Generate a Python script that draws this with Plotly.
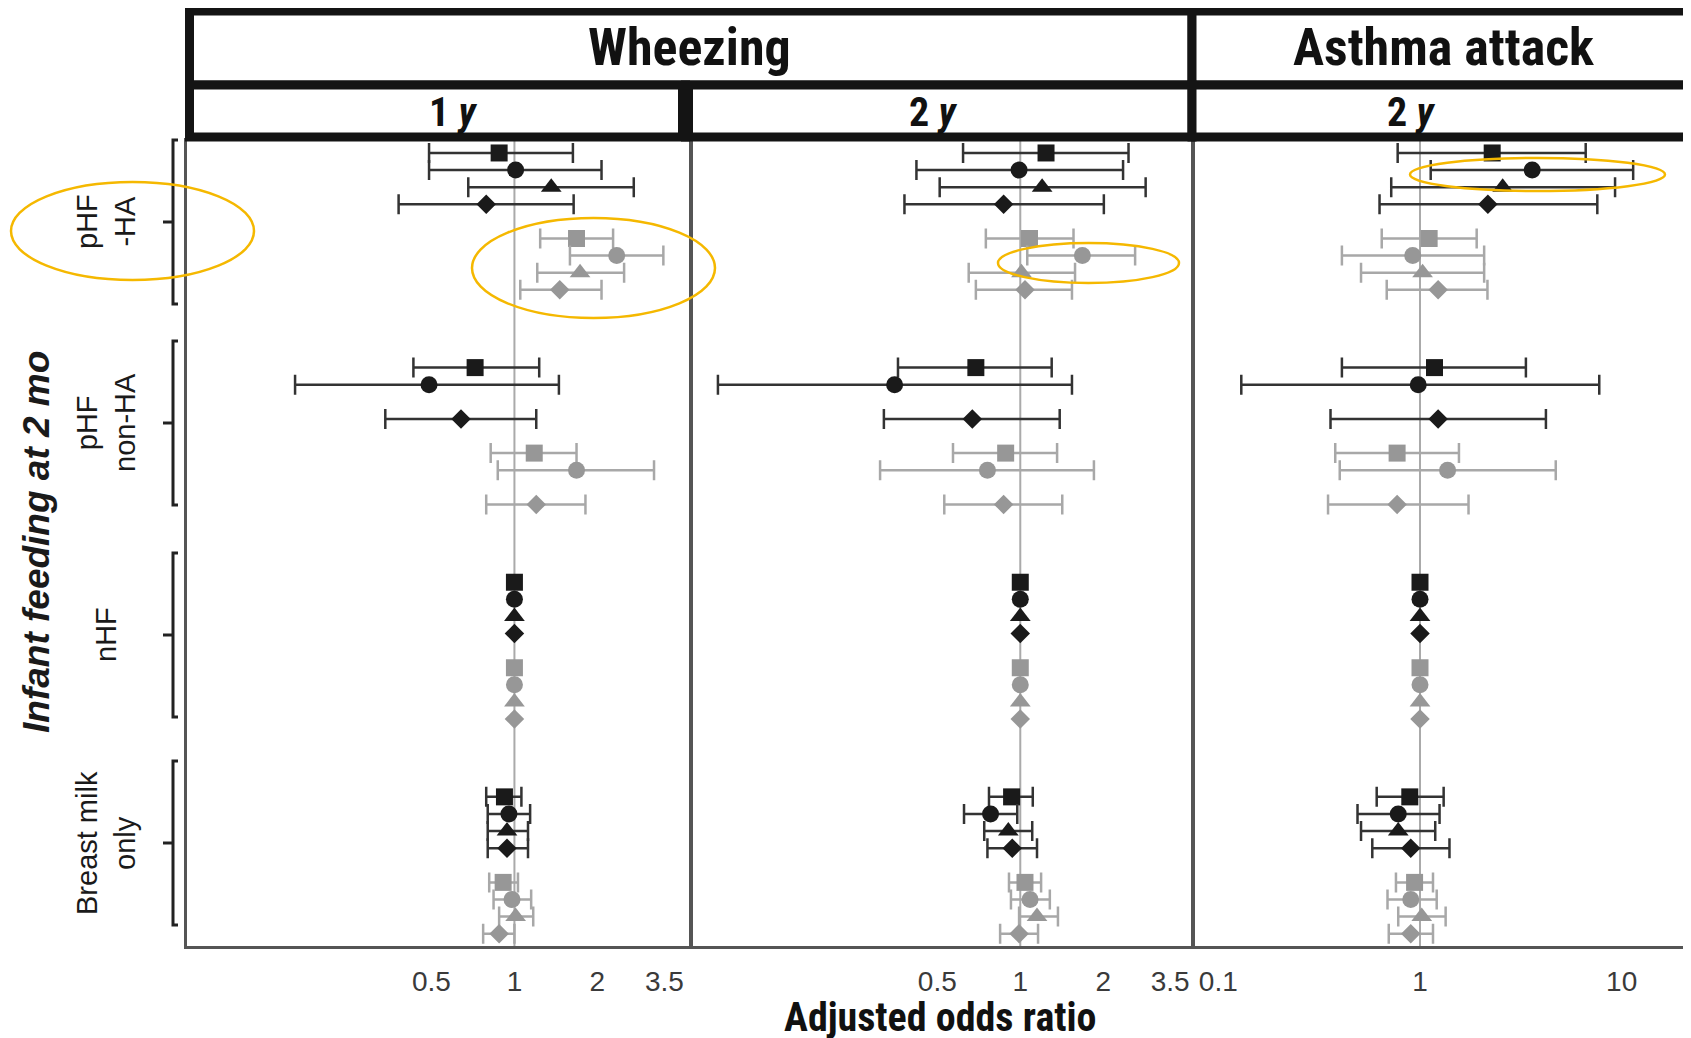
import glob
import os
import plotly.graph_objects as go

# The page adds an 8 px body margin, so the figure is sized to fit the window
OFF = 8
W, H = 1691 - OFF, 1038 - OFF

# ---------------- data ----------------
groups = ["pHF<br>-HA", "pHF<br>non-HA", "nHF", "Breast milk<br>only"]
symbols = ["square", "circle", "triangle-up", "diamond",
           "square", "circle", "triangle-up", "diamond"]
tones = ["black", "black", "black", "black", "gray", "gray", "gray", "gray"]
series_names = ["Black square", "Black circle", "Black triangle", "Black diamond",
                "Gray square", "Gray circle", "Gray triangle", "Gray diamond"]

# Wheezing, 1 y  (rows = series, columns = groups)
wz1_or = [[0.88, 0.72, 1, 0.92], [1.01, 0.49, 1, 0.955], [1.36, None, 1, 0.94], [0.79, 0.64, 1, 0.94],
          [1.68, 1.18, 1, 0.91], [2.35, 1.68, 1, 0.98], [1.73, None, 1, 1.01], [1.46, 1.20, 1, 0.88]]
wz1_lo = [[0.49, 0.43, None, 0.79], [0.49, 0.16, None, 0.80], [0.68, None, None, 0.80], [0.38, 0.34, None, 0.80],
          [1.24, 0.82, None, 0.81], [1.59, 0.87, None, 0.84], [1.21, None, None, 0.88], [1.05, 0.79, None, 0.77]]
wz1_hi = [[1.63, 1.23, None, 1.06], [2.07, 1.45, None, 1.14], [2.71, None, None, 1.12], [1.64, 1.20, None, 1.12],
          [2.28, 1.68, None, 1.03], [3.47, 3.21, None, 1.15], [2.50, None, None, 1.17], [2.07, 1.81, None, 1.00]]

# Wheezing, 2 y
wz2_or = [[1.24, 0.69, 1, 0.93], [0.99, 0.35, 1, 0.78], [1.20, None, 1, 0.905], [0.87, 0.67, 1, 0.935],
          [1.08, 0.885, 1, 1.04], [1.68, 0.76, 1, 1.085], [1.01, None, 1, 1.15], [1.04, 0.87, 1, 0.99]]
wz2_lo = [[0.62, 0.36, None, 0.77], [0.42, 0.080, None, 0.625], [0.51, None, None, 0.74], [0.38, 0.32, None, 0.76],
          [0.75, 0.57, None, 0.91], [1.06, 0.31, None, 0.925], [0.65, None, None, 0.99], [0.69, 0.53, None, 0.845]]
wz2_hi = [[2.47, 1.30, None, 1.11], [2.36, 1.54, None, 0.975], [2.85, None, None, 1.105], [2.01, 1.39, None, 1.15],
          [1.56, 1.36, None, 1.19], [2.61, 1.85, None, 1.28], [1.58, None, None, 1.37], [1.54, 1.42, None, 1.16]]

# Asthma attack, 2 y
as2_or = [[2.28, 1.18, 1, 0.89], [3.60, 0.98, 1, 0.78], [2.57, None, 1, 0.78], [2.17, 1.23, 1, 0.90],
          [1.11, 0.77, 1, 0.94], [0.92, 1.37, 1, 0.90], [1.03, None, 1, 1.02], [1.23, 0.77, 1, 0.90]]
as2_lo = [[0.775, 0.41, None, 0.61], [1.13, 0.13, None, 0.49], [0.72, None, None, 0.51], [0.63, 0.36, None, 0.58],
          [0.646, 0.38, None, 0.76], [0.41, 0.40, None, 0.69], [0.51, None, None, 0.78], [0.684, 0.35, None, 0.70]]
as2_hi = [[6.63, 3.35, None, 1.31], [11.4, 7.74, None, 1.25], [9.27, None, None, 1.19], [7.57, 4.21, None, 1.40],
          [1.91, 1.56, None, 1.16], [2.08, 4.71, None, 1.21], [2.08, None, None, 1.34], [2.16, 1.74, None, 1.16]]

outcomes = ["Wheezing", "Asthma attack"]
panel_titles = ["1 <i>y</i>", "2 <i>y</i>", "2 <i>y</i>"]
panel_ticks = [[0.5, 1, 2, 3.5], [0.5, 1, 2, 3.5], [0.1, 1, 10]]
panel_ticktext = [["0.5", "1", "2", "3.5"], ["0.5", "1", "2", "3.5"], ["0.1", "1", "10"]]


# ---------------- fonts ----------------
def font_file_exists(*keys):
    for root in ["/usr/share/fonts", "/usr/local/share/fonts", os.path.expanduser("~/.fonts"),
                 os.path.expanduser("~/.local/share/fonts")]:
        for f in glob.glob(os.path.join(root, "**", "*"), recursive=True):
            b = os.path.basename(f).lower().replace(" ", "")
            if any(k in b for k in keys):
                return True
    return False


REG = "Liberation Sans, Arial, sans-serif"
if font_file_exists("liberationsansnarrow"):
    NARROW, NS = "Liberation Sans Narrow", 1.0
elif font_file_exists("robotocondensed"):
    NARROW, NS = "Roboto Condensed", 0.97
else:
    NARROW, NS = REG, 0.84

# ---------------- style ----------------
marker_col = {"black": "#1a1a1a", "gray": "#979797"}
err_col = {"black": "#333333", "gray": "#a8a8a8"}
msize = {"square": 17, "circle": 17, "triangle-up": 18, "diamond": 15}
GROUP_STEP = 12.55


def px_x(p):
    return (p - OFF) / W


def px_y(p):
    return 1 - (p - OFF) / H


panels = [
    dict(orv=wz1_or, lo=wz1_lo, hi=wz1_hi, dom=(187, 690), rng=[-1.188, 0.637]),
    dict(orv=wz2_or, lo=wz2_lo, hi=wz2_hi, dom=(692, 1192), rng=[-1.191, 0.623]),
    dict(orv=as2_or, lo=as2_lo, hi=as2_hi, dom=(1194, 1691), rng=[-1.1205, 1.3436]),
]

fig = go.Figure()
ydom = [px_y(946), px_y(141)]
yrange = [46.37, -0.70]

for p, pan in enumerate(panels):
    xa = "x" if p == 0 else f"x{p + 1}"
    ya = "y" if p == 0 else f"y{p + 1}"
    for s in range(8):
        slot = s if s < 4 else s + 1
        ci_x, ci_y, ci_p, ci_m, ref_x, ref_y = [], [], [], [], [], []
        for g in range(len(groups)):
            v = pan["orv"][s][g]
            if v is None:
                continue
            yy = g * GROUP_STEP + slot
            lo, hi = pan["lo"][s][g], pan["hi"][s][g]
            if lo is None:
                ref_x.append(v)
                ref_y.append(yy)
            else:
                ci_x.append(v)
                ci_y.append(yy)
                ci_p.append(hi - v)
                ci_m.append(v - lo)
        tone = tones[s]
        mk = dict(symbol=symbols[s], size=msize[symbols[s]], color=marker_col[tone], line=dict(width=0))
        fig.add_trace(go.Scatter(
            x=ci_x, y=ci_y, mode="markers", name=series_names[s], showlegend=False,
            xaxis=xa, yaxis=ya, marker=mk,
            error_x=dict(type="data", symmetric=False, array=ci_p, arrayminus=ci_m,
                         color=err_col[tone], thickness=2.5, width=10)))
        fig.add_trace(go.Scatter(
            x=ref_x, y=ref_y, mode="markers", name=series_names[s] + " (reference)",
            showlegend=False, xaxis=xa, yaxis=ya, marker=mk))

axis_common = dict(showgrid=False, zeroline=False, showline=True, linecolor="#555555", linewidth=3)
layout = dict(width=W, height=H, margin=dict(l=0, r=0, t=0, b=0),
              paper_bgcolor="white", plot_bgcolor="white")
for p, pan in enumerate(panels):
    sfx = "" if p == 0 else str(p + 1)
    layout["xaxis" + sfx] = dict(
        axis_common, type="log", domain=[px_x(pan["dom"][0]), px_x(pan["dom"][1])],
        range=pan["rng"], tickvals=panel_ticks[p], ticktext=panel_ticktext[p],
        ticks="outside", ticklen=8, tickcolor="rgba(0,0,0,0)",
        tickfont=dict(family=REG, size=28, color="#3a3a3a"),
        mirror=True, anchor="y" + sfx)
    layout["yaxis" + sfx] = dict(
        axis_common, domain=ydom, range=yrange, showticklabels=False,
        mirror=(p < 2), anchor="x" + sfx)
fig.update_layout(**layout)

shapes = []
# reference lines at OR = 1
for p in range(3):
    sfx = "" if p == 0 else str(p + 1)
    shapes.append(dict(type="line", xref="x" + sfx, yref="y" + sfx + " domain",
                       x0=1, x1=1, y0=0, y1=1, layer="below",
                       line=dict(color="#aaaaaa", width=2)))

# facet strips
strip_line = dict(color="#141414", width=9)
for x0, x1 in [(189.5, 1192), (1192, 1693)]:
    shapes.append(dict(type="rect", xref="paper", yref="paper", x0=px_x(x0), x1=px_x(x1),
                       y0=px_y(85), y1=px_y(11), line=strip_line, fillcolor="white"))
for x0, x1 in [(189.5, 685.5), (685.5, 1192), (1192, 1693)]:
    shapes.append(dict(type="rect", xref="paper", yref="paper", x0=px_x(x0), x1=px_x(x1),
                       y0=px_y(137), y1=px_y(85), line=strip_line, fillcolor="white"))
shapes.append(dict(type="line", xref="paper", yref="paper", x0=px_x(685.5), x1=px_x(685.5),
                   y0=px_y(137), y1=px_y(85), line=dict(color="#141414", width=15)))

# group brackets on the left
bracket_centers = [222, 423, 635, 843]
half = 82
bl = dict(color="#222222", width=3)
for c in bracket_centers:
    shapes.append(dict(type="path", xref="paper", yref="paper",
                       path=(f"M {px_x(178)},{px_y(c - half)} L {px_x(173)},{px_y(c - half)} "
                             f"L {px_x(173)},{px_y(c + half)} L {px_x(178)},{px_y(c + half)}"),
                       line=bl))
    shapes.append(dict(type="line", xref="paper", yref="paper", x0=px_x(163), x1=px_x(173),
                       y0=px_y(c), y1=px_y(c), line=bl))

# yellow highlight ellipses
yl = dict(color="#f5b800", width=2.5)
for (x0, x1, y0, y1) in [(11, 254, 182, 280), (472, 715, 218, 318),
                         (998, 1179, 243, 283), (1410, 1665, 158, 191)]:
    shapes.append(dict(type="circle", xref="paper", yref="paper", x0=px_x(x0), x1=px_x(x1),
                       y0=px_y(y1), y1=px_y(y0), line=yl))

fig.update_layout(shapes=shapes)

ann = []
# outcome headers
for txt, cx in zip(outcomes, [689, 1443]):
    ann.append(dict(text=f"<b>{txt}</b>", x=px_x(cx), y=px_y(47), xref="paper", yref="paper",
                    showarrow=False, xanchor="center", yanchor="middle",
                    font=dict(family=NARROW, size=round(54 * NS), color="#111111")))
for txt, cx in zip(panel_titles, [453, 933, 1411]):
    ann.append(dict(text=f"<b>{txt}</b>", x=px_x(cx), y=px_y(112), xref="paper", yref="paper",
                    showarrow=False, xanchor="center", yanchor="middle",
                    font=dict(family=NARROW, size=round(41 * NS), color="#111111")))
# group labels
for g, c in enumerate(bracket_centers):
    ann.append(dict(text=groups[g], x=px_x(106), y=px_y(c), xref="paper", yref="paper",
                    showarrow=False, xanchor="center", yanchor="middle", textangle=-90,
                    font=dict(family=REG, size=29, color="#1a1a1a")))
# axis titles
ann.append(dict(text="<b><i>Infant feeding at 2 mo</i></b>", x=px_x(36), y=px_y(542),
                xref="paper", yref="paper", showarrow=False, xanchor="center", yanchor="middle",
                textangle=-90, font=dict(family=REG, size=37, color="#1a1a1a")))
ann.append(dict(text="<b>Adjusted odds ratio</b>", x=px_x(940), y=px_y(1017),
                xref="paper", yref="paper", showarrow=False, xanchor="center", yanchor="middle",
                font=dict(family=NARROW, size=round(41 * NS), color="#111111")))
fig.update_layout(annotations=ann)

fig.write_html("out.html")
